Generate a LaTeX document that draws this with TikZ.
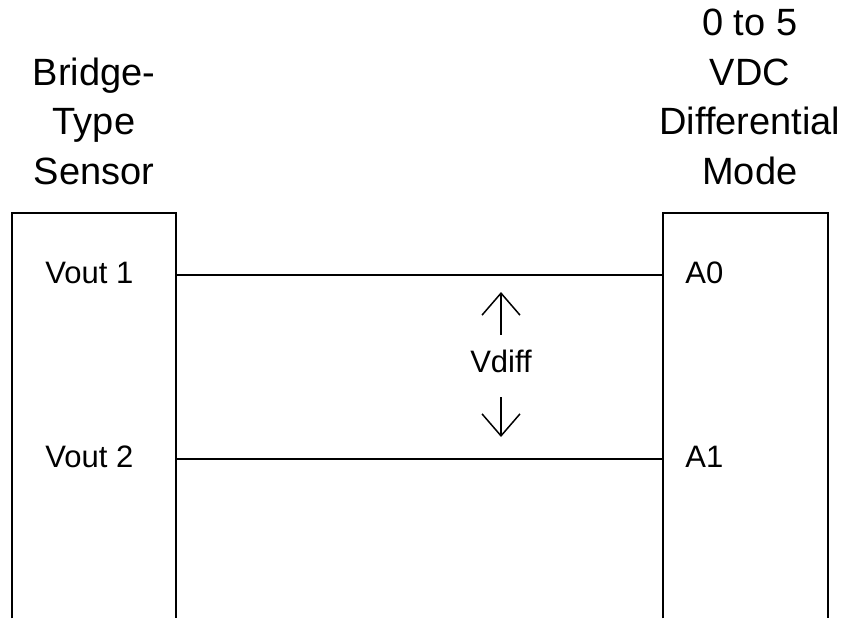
\documentclass[tikz,border=0pt]{standalone}
\usepackage{fontspec}
\setmainfont{Liberation Sans}[Ligatures=NoCommon]
\usetikzlibrary{arrows.meta, positioning}
\tikzset{
  box/.style={rectangle, minimum width=82pt, minimum height=202.5pt, inner sep=0pt},
  heading/.style={align=center, inner sep=0pt, text depth=0pt, font=\fontsize{19}{24.75}\selectfont},
  port/.style={inner sep=0pt, text height=8pt, text depth=0pt, font=\fontsize{15.5}{18}\selectfont},
  outline/.style={line width=1pt},
  wire/.style={line width=0.75pt},
  sig/.style={line width=0.75pt, -{Straight Barb[length=11pt, width=19pt]}}
}
\begin{document}
\begin{tikzpicture}[x=0.5pt, y=0.5pt]
  \useasboundingbox (0,0) rectangle (850,618);

  % Boxes
  \node (sensor) [box] at (94,202.5) {};
  \node (adc) [box, right=243.5pt of sensor] {};
  \draw [outline] (sensor.south west) |- (sensor.north east) -- (sensor.south east);
  \draw [outline] (adc.south west) |- (adc.north east) -- (adc.south east);

  % Headings
  \node (sensorhead) [heading, above=14pt of sensor] {Bridge-\\Type\\Sensor};
  \node (adchead) [heading, above=14pt of adc, xshift=2pt] {0 to 5\\VDC\\Differential\\Mode};

  % Terminals
  \node (vout1) [port, anchor=base west] at (45,335) {Vout 1};
  \node (vout2) [port, anchor=base west] at (45,151) {Vout 2};
  \node (a0) [port, anchor=base west] at (685,335) {A0};
  \node (a1) [port, anchor=base west] at (685,151) {A1};

  % Wires
  \draw [wire] (vout1 -| sensor.east) -- (a0 -| adc.west);
  \draw [wire] (vout2 -| sensor.east) -- (a1 -| adc.west);

  % Differential voltage
  \node (vdiff) [port, text height=11pt, text depth=5pt, inner ysep=7.5pt, anchor=base] at (501,246) {Vdiff};
  \coordinate (vtop) at (501,326);
  \coordinate (vbot) at (501,181);
  \draw [sig] (vdiff.north) -- (vtop);
  \draw [sig] (vdiff.south) -- (vbot);

\end{tikzpicture}
\end{document}
